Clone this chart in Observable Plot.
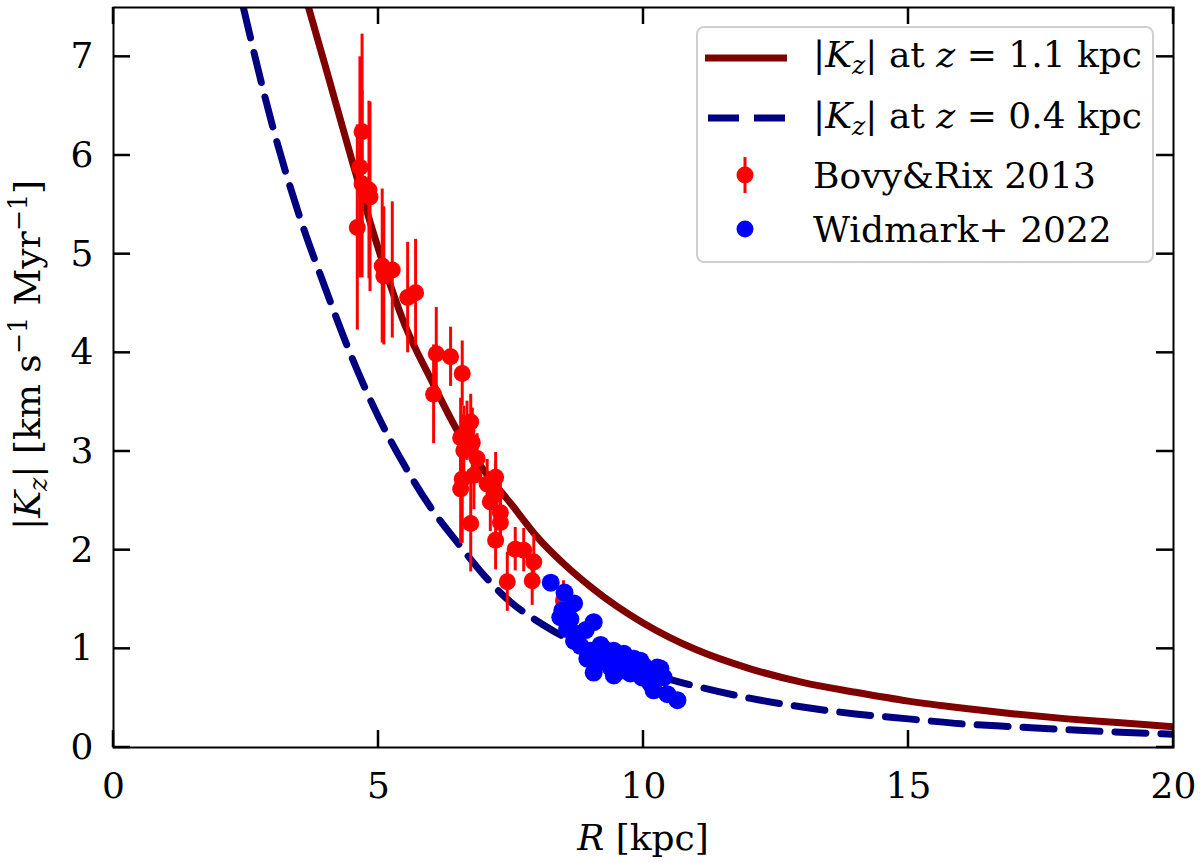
<!DOCTYPE html>
<html>
<head>
<meta charset="utf-8">
<script src="https://cdn.jsdelivr.net/npm/d3@7"></script>
<script src="https://cdn.jsdelivr.net/npm/@observablehq/plot@0.6"></script>
<style>
  body { margin: 0; padding: 0; background: #fff; }
  #chart svg { font-family: "DejaVu Serif", serif; }
</style>
</head>
<body>
<div id="chart"></div>
<script>
  // |Kz| at z = 1.1 kpc
  const solidR = [3.68, 4.0, 4.5, 5.0, 5.5, 6.0, 6.5, 7.0, 7.5, 8.0, 8.5, 9.0, 9.5, 10, 11, 12, 13, 14, 15, 16, 17, 18, 19, 20]
  const solidK = [7.5, 6.9, 5.95, 5.05, 4.28, 3.72, 3.2, 2.8, 2.47, 2.13, 1.86, 1.63, 1.43, 1.26, 0.99, 0.8, 0.66, 0.56, 0.47, 0.4, 0.34, 0.29, 0.25, 0.21]

  // |Kz| at z = 0.4 kpc
  const dashR = [2.45, 3.0, 3.5, 4.0, 4.5, 5.0, 5.5, 6.0, 6.5, 7.0, 7.5, 8.0, 8.5, 9.0, 9.5, 10, 11, 12, 13, 14, 15, 16, 17, 18, 19, 20]
  const dashK = [7.5, 6.3, 5.4, 4.65, 3.95, 3.35, 2.85, 2.42, 2.07, 1.74, 1.47, 1.28, 1.12, 0.98, 0.87, 0.77, 0.62, 0.5, 0.41, 0.34, 0.29, 0.24, 0.21, 0.18, 0.155, 0.135]

  // Bovy & Rix 2013 (R, |Kz|, error)
  const bovyR = [4.69, 4.65, 4.69, 4.82, 4.84, 4.60, 5.07, 5.26, 5.10, 5.55, 5.70, 6.09, 6.36, 6.58, 6.04, 6.74, 6.55, 6.67, 6.77, 6.61, 6.86, 6.58, 6.55, 6.80, 7.05, 7.21, 7.21, 7.11, 7.30, 7.30, 6.74, 7.21, 7.58, 7.74, 7.93, 7.43, 7.90, 8.49]
  const bovyK = [6.24, 5.88, 5.71, 5.65, 5.58, 5.27, 4.88, 4.84, 4.78, 4.56, 4.61, 3.99, 3.96, 3.79, 3.58, 3.30, 3.14, 3.21, 3.09, 3.01, 2.93, 2.72, 2.62, 2.76, 2.67, 2.74, 2.57, 2.49, 2.38, 2.28, 2.27, 2.10, 2.01, 2.00, 1.88, 1.68, 1.69, 1.49]
  const bovyErr = [0.99, 1.12, 0.95, 0.9, 0.96, 1.04, 0.78, 0.69, 0.7, 0.56, 0.54, 0.47, 0.3, 0.33, 0.5, 0.28, 0.4, 0.3, 0.35, 0.45, 0.25, 0.65, 0.55, 0.35, 0.25, 0.25, 0.3, 0.3, 0.3, 0.25, 0.49, 0.3, 0.22, 0.22, 0.28, 0.3, 0.25, 0.2]

  // Widmark+ 2022
  const widR = [8.25, 8.51, 8.69, 8.47, 8.43, 8.62, 9.06, 8.56, 8.91, 8.69, 8.81, 9.00, 9.25, 9.44, 9.63, 8.94, 9.19, 9.82, 10.00, 10.26, 9.06, 9.38, 9.57, 9.75, 9.97, 9.44, 10.13, 10.19, 10.45, 10.64, 10.38, 10.32, 9.19, 9.94, 10.22, 9.30, 9.70, 10.05, 8.75, 9.55]
  const widK = [1.67, 1.57, 1.46, 1.39, 1.32, 1.30, 1.27, 1.20, 1.19, 1.08, 1.03, 0.98, 1.00, 0.98, 0.95, 0.90, 0.88, 0.90, 0.83, 0.81, 0.76, 0.81, 0.78, 0.75, 0.71, 0.73, 0.65, 0.58, 0.54, 0.48, 0.71, 0.80, 1.04, 0.88, 0.68, 0.93, 0.85, 0.75, 1.15, 0.88]

  const xTicks = [0, 5, 10, 15, 20]
  const yTicks = [0, 1, 2, 3, 4, 5, 6, 7]

  const solid = solidR.map((r, i) => ({R: r, K: solidK[i]}))
  const dashed = dashR.map((r, i) => ({R: r, K: dashK[i]}))
  const bovy = bovyR.map((r, i) => ({R: r, K: bovyK[i], e: bovyErr[i]}))
  const wid = widR.map((r, i) => ({R: r, K: widK[i]}))

  const fontSize = 36

  const chart = Plot.plot({
    width: 1200,
    height: 863,
    marginLeft: 113,
    marginRight: 27,
    marginTop: 7,
    marginBottom: 116,
    style: {fontFamily: "DejaVu Serif", fontSize: fontSize + "px", background: "white", color: "black", overflow: "visible"},
    x: {domain: [0, 20], label: null},
    y: {domain: [0, 7.5], label: null},
    marks: [
      Plot.line(solid, {x: "R", y: "K", stroke: "#800000", strokeWidth: 7, curve: "monotone-x", clip: true}),
      Plot.line(dashed, {x: "R", y: "K", stroke: "#000080", strokeWidth: 7, strokeDasharray: "31,15", curve: "monotone-x", clip: true}),
      Plot.ruleX(bovy, {x: "R", y1: d => d.K - d.e, y2: d => d.K + d.e, stroke: "#ff0000", strokeWidth: 3}),
      Plot.dot(bovy, {x: "R", y: "K", r: 8.5, fill: "#ff0000"}),
      Plot.dot(wid, {x: "R", y: "K", r: 9, fill: "#0000ff"}),
      Plot.frame({stroke: "black", strokeWidth: 2}),
      Plot.axisX({ticks: xTicks, tickSize: 0, tickPadding: 25, label: null}),
      Plot.axisY({ticks: yTicks, tickSize: 0, tickPadding: 20, label: null})
    ]
  })

  document.querySelector("#chart").append(chart)

  // inward ticks on all four sides, placed with the plot's scales
  const sx = chart.scale("x"), sy = chart.scale("y")
  const svg = d3.select(chart)
  const xL = sx.apply(0), xR = sx.apply(20), yB = sy.apply(0), yT = sy.apply(7.5)
  const tickLen = 17
  const tickG = svg.append("g").attr("stroke", "black").attr("stroke-width", 2.5)
  for (const t of xTicks) {
    const px = sx.apply(t)
    tickG.append("line").attr("x1", px).attr("x2", px).attr("y1", yB).attr("y2", yB - tickLen)
    tickG.append("line").attr("x1", px).attr("x2", px).attr("y1", yT).attr("y2", yT + tickLen)
  }
  for (const t of yTicks) {
    const py = sy.apply(t)
    tickG.append("line").attr("y1", py).attr("y2", py).attr("x1", xL).attr("x2", xL + tickLen)
    tickG.append("line").attr("y1", py).attr("y2", py).attr("x1", xR).attr("x2", xR - tickLen)
  }

  // axis labels with math styling
  const ylab = svg.append("text")
    .attr("transform", `translate(40,${(yT + yB) / 2 - 22}) rotate(-90)`)
    .attr("text-anchor", "middle")
    .attr("font-size", fontSize)
    .attr("fill", "black")
  ylab.append("tspan").text("|")
  ylab.append("tspan").attr("font-style", "italic").text("K")
  ylab.append("tspan").attr("font-style", "italic").attr("font-size", fontSize * 0.7).attr("dy", 7).text("z")
  ylab.append("tspan").attr("dy", -7).text("| [km s")
  ylab.append("tspan").attr("font-size", fontSize * 0.7).attr("dy", -13).text("\u22121")
  ylab.append("tspan").attr("dy", 13).text(" Myr")
  ylab.append("tspan").attr("font-size", fontSize * 0.7).attr("dy", -13).text("\u22121")
  ylab.append("tspan").attr("dy", 13).text("]")

  const xlab = svg.append("text")
    .attr("x", (xL + xR) / 2).attr("y", 850)
    .attr("text-anchor", "middle")
    .attr("font-size", fontSize)
    .attr("fill", "black")
  xlab.append("tspan").attr("font-style", "italic").text("R")
  xlab.append("tspan").text(" [kpc]")

  // legend
  const lg = svg.append("g").attr("text-anchor", "start")
  lg.append("rect").attr("x", 697).attr("y", 27).attr("width", 456).attr("height", 235)
    .attr("rx", 7).attr("fill", "white").attr("fill-opacity", 0.8)
    .attr("stroke", "#d0d0d0").attr("stroke-width", 2)
  lg.append("line").attr("x1", 705).attr("x2", 787).attr("y1", 58).attr("y2", 58)
    .attr("stroke", "#800000").attr("stroke-width", 7)
  lg.append("line").attr("x1", 708).attr("x2", 785).attr("y1", 118).attr("y2", 118)
    .attr("stroke", "#000080").attr("stroke-width", 7).attr("stroke-dasharray", "31,15")
  lg.append("line").attr("x1", 745).attr("x2", 745).attr("y1", 157).attr("y2", 193)
    .attr("stroke", "#ff0000").attr("stroke-width", 3)
  lg.append("circle").attr("cx", 745).attr("cy", 175).attr("r", 8.5).attr("fill", "#ff0000")
  lg.append("circle").attr("cx", 745).attr("cy", 229).attr("r", 8.5).attr("fill", "#0000ff")

  function kzLabel(y, zval) {
    const t = lg.append("text").attr("x", 813).attr("y", y).attr("text-anchor", "start")
      .attr("font-size", fontSize).attr("fill", "black")
    t.append("tspan").text("|")
    t.append("tspan").attr("font-style", "italic").text("K")
    t.append("tspan").attr("font-style", "italic").attr("font-size", fontSize * 0.7).attr("dy", 7).text("z")
    t.append("tspan").attr("dy", -7).text("| at ")
    t.append("tspan").attr("font-style", "italic").text("z")
    t.append("tspan").text(" = " + zval + " kpc")
  }
  kzLabel(67, "1.1")
  kzLabel(128, "0.4")
  lg.append("text").attr("x", 813).attr("y", 188).attr("text-anchor", "start")
    .attr("font-size", fontSize).attr("fill", "black").text("Bovy&Rix 2013")
  lg.append("text").attr("x", 813).attr("y", 242).attr("text-anchor", "start")
    .attr("font-size", fontSize).attr("fill", "black").text("Widmark+ 2022")
</script>
</body>
</html>
